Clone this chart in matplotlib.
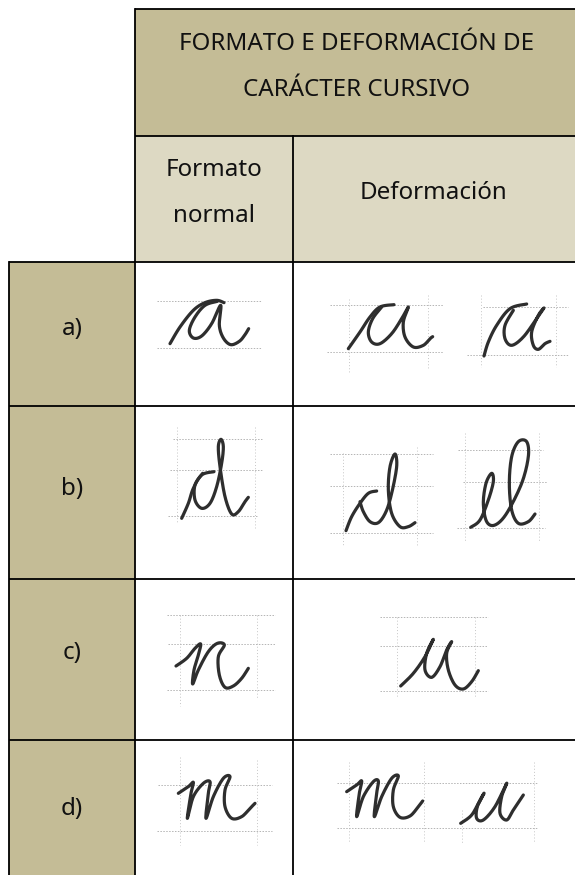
'''
Tabla: formato y deformacion de caracter cursivo
'''
import numpy as np
import matplotlib
matplotlib.use("Agg")
import matplotlib.pyplot as plt
from matplotlib.patches import Rectangle

# table text
title_lines = ["FORMATO E DEFORMACIÓN DE", "CARÁCTER CURSIVO"]
col_normal = ["Formato", "normal"]
col_deform = "Deformación"
row_labels = ["a)", "b)", "c)", "d)"]
row_label_base = [335, 495, 659, 815]

# table geometry in image pixels
x_left, x_mid1, x_mid2, x_right = 9, 135, 293, 575
y_top, y_head, y_body = 9, 136, 262
row_lines = [406, 579, 740, 875]

DARK = "#c4bc96"
LIGHT = "#ddd9c3"
INK = "#2e2e2e"
GUIDE = "#b4b4b4"

# handwritten strokes, (x, y) in px relative to a panel origin x3
a_normal = [[(120,245),(150,195),(190,145),(225,122),(260,115),(282,122)],
            [(262,118),(225,130),(195,165),(178,205),(190,228),(215,222),(245,185),(272,130),(268,190),(280,228),(302,248),(328,238),(345,218),(356,200)]]
a_def1 = [[(655,260),(690,210),(720,165),(750,135),(792,128)],
          [(755,135),(728,170),(715,210),(725,240),(750,245),(785,215),(815,170),(835,135),(820,180),(825,225),(850,255),(880,250),(900,230),(908,224)]]
a_def2 = [[(1062,282),(1075,240),(1100,190),(1140,140),(1190,126)],
          [(1150,145),(1125,190),(1125,230),(1145,250),(1180,225),(1220,170),(1242,138),(1225,160),(1205,210),(1210,250),(1225,262),(1245,245),(1260,238)]]
d_normal = [[(155,325),(175,280),(190,235),(215,195),(252,185)],
            [(218,190),(195,225),(195,270),(215,295),(240,280),(260,230),(275,160),(280,110),(273,88),(265,110),(270,170),(285,260),(305,312),(325,305),(345,275),(355,262)]]
d_def1 = [[(648,362),(665,320),(690,280),(715,250),(740,243)],
          [(690,275),(700,305),(720,335),(745,338),(768,305),(785,250),(800,170),(795,132),(780,170),(775,240),(785,310),(810,350),(835,350),(855,338)]]
d_def2 = [[(1022,352),(1050,330),(1075,270),(1090,215),(1085,190),(1068,220),(1060,280),(1070,335),(1095,345),(1130,310),(1175,220),(1195,140),(1190,95),(1165,95),(1145,140),(1138,220),(1145,300),(1165,340),(1195,335),(1215,312)]]
n_normal = [[(138,258),(170,235),(195,205),(212,192),(205,225),(192,270),(188,312),(205,270),(235,215),(262,190),(283,195),(265,230),(268,285),(285,322),(310,318),(335,295),(355,265)]]
n_def = [[(812,318),(850,280),(885,230),(910,178),(890,220),(885,270),(905,292),(930,260),(950,210),(965,185),(950,220),(955,270),(975,315),(1000,327),(1025,305),(1045,272)]]
m_normal = [[(145,640),(175,620),(190,607),(183,640),(172,715),(190,650),(220,610),(240,605),(235,640),(228,715),(250,650),(280,595),(300,590),(285,630),(285,680),(305,715),(335,710),(360,685),(375,670)]]
m_def1 = [[(650,635),(680,615),(695,603),(688,640),(680,710),(700,650),(730,605),(745,603),(740,640),(733,710),(755,650),(785,595),(805,588),(790,630),(790,680),(810,712),(840,708),(865,680),(878,663)]]
m_def2 = [[(992,730),(1025,705),(1050,660),(1062,640),(1042,680),(1040,715),(1060,720),(1095,680),(1130,610),(1115,650),(1110,700),(1130,720),(1150,690),(1180,645)]]

# guide lines: horizontal (y, x0, x1), vertical (x, y0, y1)
a_h = [(117,80,395),(258,80,395),(130,600,940),(270,590,940),(135,1060,1315),(278,1010,1315)]
a_v = [(658,110,330),(893,100,325),(1053,100,315),(1277,100,315)]
b_h = [(88,130,395),(180,120,395),(317,115,385),(133,600,910),(228,600,910),(368,600,910),(120,985,1240),(215,1000,1250),(355,980,1245)]
b_v = [(140,50,340),(375,50,355),(638,130,405),(860,110,405),(1005,70,395),(1228,70,395)]
c_h = [(105,110,435),(192,115,435),(330,110,435),(110,750,1075),(197,750,1070),(333,750,1075),
       (615,85,425),(752,80,425),(610,620,1225),(745,620,1225)]
c_v = [(150,105,378),(380,105,355),(802,110,350),(1035,110,350),(150,530,795),(380,540,795),
       (658,545,790),(882,545,790),(995,690,790),(1213,545,790)]

# panel origins of the strokes
panels = [((130,262), [a_normal,a_def1,a_def2], a_h, a_v),
          ((130,410), [d_normal,d_def1,d_def2], b_h, b_v),
          ((130,580), [n_normal,n_def,m_normal,m_def1,m_def2], c_h, c_v)]


def smooth(pts, n=14):
    # catmull-rom through the points
    p = np.array(pts, dtype=float)
    p = np.vstack([p[0], p, p[-1]])
    out = []
    t = np.linspace(0, 1, n, endpoint=False)[:, None]
    for i in range(1, len(p) - 2):
        a, b, c, d = p[i-1], p[i], p[i+1], p[i+2]
        out.append(0.5*(2*b + (c-a)*t + (2*a-5*b+4*c-d)*t**2 + (3*b-a-3*c+d)*t**3))
    out.append(p[-2][None, :])
    return np.vstack(out)


def drawCell(ax, x0, y0, x1, y1, color):
    ax.add_patch(Rectangle((x0, y0), x1-x0, y1-y0, facecolor=color, edgecolor="none", zorder=1))


def main():
    plt.rcParams["font.family"] = ["Noto Sans", "DejaVu Sans"]
    fig = plt.figure(figsize=(5.75, 8.75), dpi=100)
    ax = fig.add_axes([0, 0, 1, 1])
    ax.set_xlim(0, 575)
    ax.set_ylim(875, 0)
    ax.axis("off")

    drawCell(ax, x_mid1, y_top, x_right, y_head, DARK)
    drawCell(ax, x_mid1, y_head, x_right, y_body, LIGHT)
    prev = y_body
    for y in row_lines:
        drawCell(ax, x_left, prev, x_mid1, y, DARK)
        prev = y

    for y in [y_body] + row_lines[:-1]:
        ax.plot([x_left, x_right], [y, y], color="black", lw=1.3, zorder=3, solid_capstyle="butt")
    for y in [y_top, y_head]:
        ax.plot([x_mid1, x_right], [y, y], color="black", lw=1.3, zorder=3, solid_capstyle="butt")
    ax.plot([x_left, x_left], [y_body, 875], color="black", lw=1.3, zorder=3)
    ax.plot([x_mid1, x_mid1], [y_top, 875], color="black", lw=1.3, zorder=3)
    ax.plot([x_mid2, x_mid2], [y_head, 875], color="black", lw=1.3, zorder=3)

    tx = dict(ha="center", va="baseline", fontsize=17.4, color="#111111", zorder=4)
    ax.text(357, 50, title_lines[0], **tx)
    ax.text(357, 96, title_lines[1], **tx)
    ax.text(214, 176, col_normal[0], **tx)
    ax.text(214, 222.5, col_normal[1], **tx)
    ax.text(434, 199, col_deform, **tx)
    for lab, y in zip(row_labels, row_label_base):
        ax.text(72, y, lab, **tx)

    for (ox, oy), glyphs, hs, vs in panels:
        for y, x0, x1 in hs:
            ax.plot([ox+x0/3, ox+x1/3], [oy+y/3, oy+y/3], color=GUIDE, lw=0.7, ls=(0, (1.5, 1.5)), zorder=2)
        for x, y0, y1 in vs:
            ax.plot([ox+x/3, ox+x/3], [oy+y0/3, oy+y1/3], color=GUIDE, lw=0.5, ls=(0, (1.5, 3)), zorder=2)
        for glyph in glyphs:
            for stroke in glyph:
                s = smooth(stroke)
                ax.plot(ox+s[:, 0]/3, oy+s[:, 1]/3, color=INK, lw=2.3, zorder=3,
                        solid_capstyle="round", solid_joinstyle="round")

    fig.savefig("out.png", dpi=100, facecolor="white")


if __name__ == "__main__":
    main()
